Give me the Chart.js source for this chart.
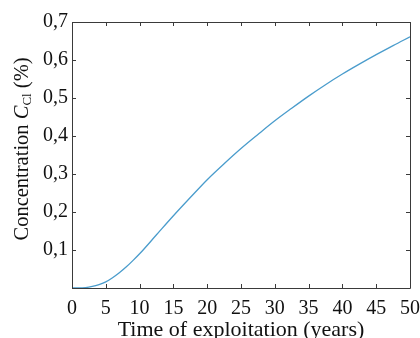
<!DOCTYPE html>
<html>
<head>
<meta charset="utf-8">
<script src="https://cdn.jsdelivr.net/npm/chart.js@4"></script>
<style>
    html, body { margin: 0; padding: 0; background: #fff; }
</style>
</head>
<body>
<canvas id="chart" width="420" height="338"></canvas>
<script>
    // values
    const years = [0, 1, 2, 3, 4, 5, 6, 7, 8, 9, 10, 12.5, 15, 17.5, 20, 22.5, 25, 27.5, 30,
                   32.5, 35, 37.5, 40, 42.5, 45, 47.5, 50];
    const concentration = [0, 0, 0.001, 0.004, 0.009, 0.016, 0.027, 0.04, 0.055, 0.072, 0.09,
                           0.14, 0.19, 0.238, 0.285, 0.327, 0.367, 0.404, 0.44, 0.473,
                           0.505, 0.535, 0.563, 0.589, 0.614, 0.638, 0.661];
    const xTicks = [0, 5, 10, 15, 20, 25, 30, 35, 40, 45, 50];
    const yTicks = [0, 0.1, 0.2, 0.3, 0.4, 0.5, 0.6, 0.7];

    const serif = "'Liberation Serif', 'DejaVu Serif', serif";
    const axisColor = '#3a3a3a';

    // inward ticks on all four sides + box, like the matlab plot
    const boxTicks = {
        id: 'boxTicks',
        afterDraw(chart) {
            const ctx = chart.ctx;
            const a = chart.chartArea;
            const xs = chart.scales.x, ys = chart.scales.y;
            ctx.save();
            ctx.strokeStyle = axisColor;
            ctx.lineWidth = 1;
            ctx.beginPath();
            ctx.rect(Math.round(a.left) + 0.5, Math.round(a.top) + 0.5,
                     Math.round(a.right - a.left), Math.round(a.bottom - a.top));
            ctx.stroke();
            ctx.beginPath();
            xTicks.forEach(v => {
                const px = Math.round(xs.getPixelForValue(v)) + 0.5;
                ctx.moveTo(px, a.bottom); ctx.lineTo(px, a.bottom - 4);
                ctx.moveTo(px, a.top); ctx.lineTo(px, a.top + 4);
            });
            yTicks.forEach(v => {
                const py = Math.round(ys.getPixelForValue(v)) + 0.5;
                ctx.moveTo(a.left, py); ctx.lineTo(a.left + 4, py);
                ctx.moveTo(a.right, py); ctx.lineTo(a.right - 4, py);
            });
            ctx.stroke();

            // y title with italic C and subscript Cl
            ctx.translate(23, (a.top + a.bottom) / 2 - 6);
            ctx.rotate(-Math.PI / 2);
            ctx.fillStyle = '#111';
            ctx.textBaseline = 'middle';
            const parts = [
                {t: 'Concentration ', f: '20.5px ' + serif, dy: 0},
                {t: 'C', f: 'italic 20.5px ' + serif, dy: 0},
                {t: 'Cl', f: '13px ' + serif, dy: 5},
                {t: ' (%)', f: '20.5px ' + serif, dy: 0}
            ];
            let total = 0;
            parts.forEach(p => { ctx.font = p.f; total += ctx.measureText(p.t).width; });
            let x = -total / 2;
            parts.forEach(p => {
                ctx.font = p.f;
                ctx.fillText(p.t, x, p.dy);
                x += ctx.measureText(p.t).width;
            });
            ctx.restore();
        }
    };

    new Chart(document.getElementById('chart'), {
        type: 'line',
        data: {
            datasets: [{
                data: years.map((y, i) => ({x: y, y: concentration[i]})),
                borderColor: '#4a9ccc',
                borderWidth: 1.3,
                pointRadius: 0,
                cubicInterpolationMode: 'monotone',
                fill: false
            }]
        },
        options: {
            responsive: false,
            animation: false,
            devicePixelRatio: 1,
            layout: {padding: {top: 22, right: 10, left: 0, bottom: 0}},
            plugins: {legend: {display: false}, tooltip: {enabled: false}},
            scales: {
                x: {
                    type: 'linear',
                    min: 0, max: 50,
                    afterBuildTicks: s => { s.ticks = xTicks.map(v => ({value: v})); },
                    afterFit: s => { s.height = 50; s.paddingRight = 0; s.paddingLeft = 0; },
                    grid: {display: false, drawTicks: false},
                    border: {display: false},
                    ticks: {
                        color: '#111', padding: 9, maxRotation: 0, autoSkip: false,
                        font: {family: serif, size: 20}
                    },
                    title: {
                        display: true, text: 'Time of exploitation (years)', color: '#111',
                        font: {family: serif, size: 22}, padding: {top: 0, bottom: -5}
                    }
                },
                y: {
                    min: 0, max: 0.7,
                    afterBuildTicks: s => { s.ticks = yTicks.map(v => ({value: v})); },
                    afterFit: s => { s.width = 72; s.paddingTop = 0; s.paddingBottom = 0; },
                    grid: {display: false, drawTicks: false},
                    border: {display: false},
                    ticks: {
                        color: '#111', padding: 4,
                        font: {family: serif, size: 20},
                        callback: v => v === 0 ? '' : String(Math.round(v * 10) / 10).replace('.', ',')
                    }
                }
            }
        },
        plugins: [boxTicks]
    });
</script>
</body>
</html>
